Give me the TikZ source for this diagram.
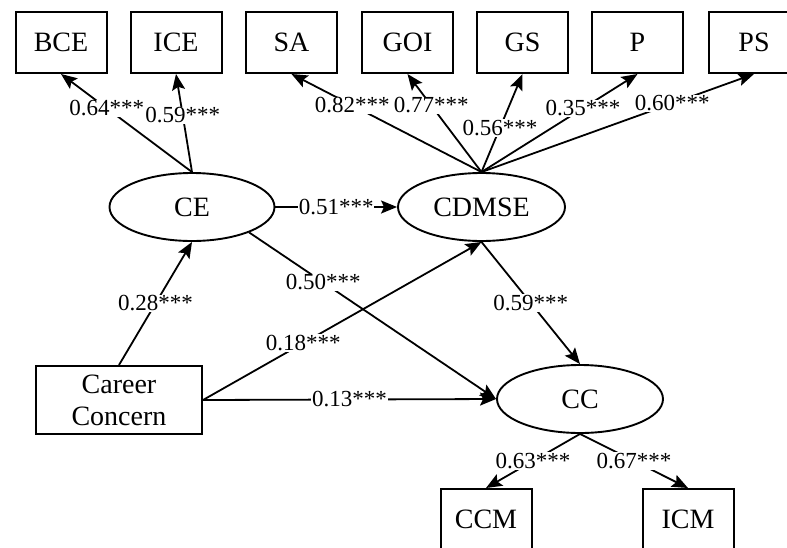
\documentclass[tikz,border=0pt]{standalone}
\usepackage{fontspec}
\setmainfont{Liberation Serif}
\usetikzlibrary{arrows.meta,shapes.geometric}
\begin{document}
\begin{tikzpicture}[x=1pt,y=-1pt,
  obs/.style={draw,line width=2pt,rectangle,minimum width=91pt,minimum height=61pt,inner sep=0pt,font=\fontsize{28}{32}\selectfont},
  lat/.style={draw,line width=1.9pt,ellipse,minimum width=166pt,minimum height=68pt,inner sep=0pt,font=\fontsize{28}{32}\selectfont},
  path/.style={line width=1.8pt,-{Stealth[length=16pt,width=13pt,inset=3pt]}},
  lbl/.style={fill=white,inner sep=0.8pt,font=\fontsize{23}{26}\selectfont}]
\clip (0,0) rectangle (787,547);
\fill[white] (0,0) rectangle (787,547);
% indicators
\node[obs] (bce) at (61,42.5) {BCE};
\node[obs] (ice) at (176,42.5) {ICE};
\node[obs] (sa) at (291.5,42.5) {SA};
\node[obs] (goi) at (407.5,42.5) {GOI};
\node[obs] (gs) at (522.5,42.5) {GS};
\node[obs] (p) at (637.5,42.5) {P};
\node[obs] (ps) at (754,42.5) {PS};
\node[obs] (ccm) at (486,519.5) {CCM};
\node[obs] (icm) at (688,519.5) {ICM};
% latent
\node[lat,minimum width=165pt] (ce) at (192,207) {CE};
\node[lat,minimum width=167pt] (cdmse) at (481.5,207) {CDMSE};
\node[lat] (cc) at (580,399) {CC};
\node[obs,minimum width=166pt,minimum height=68pt,align=center] (career) at (119,400) {Career\\[0pt]Concern};
% loadings
\draw[path] (ce.north) -- node[lbl,pos=0.65] {0.64***} (bce.south);
\draw[path] (ce.north) -- node[lbl,pos=0.58] {0.59***} (ice.south);
\draw[path] (cdmse.north) -- node[lbl,pos=0.68] {0.82***} (sa.south);
\draw[path] (cdmse.north) -- node[lbl,pos=0.68] {0.77***} (goi.south);
\draw[path] (cdmse.north) -- node[lbl,pos=0.45] {0.56***} (gs.south);
\draw[path] (cdmse.north) -- node[lbl,pos=0.65] {0.35***} (p.south);
\draw[path] (cdmse.north) -- node[lbl,pos=0.70] {0.60***} (ps.south);
\draw[path] (cc.south) -- node[lbl,pos=0.5] {0.63***} (ccm.north);
\draw[path] (cc.south) -- node[lbl,pos=0.5] {0.67***} (icm.north);
% structural paths
\draw[path] (ce.east) -- node[lbl,pos=0.5] {0.51***} (cdmse.west);
\draw[path] (ce.-24) -- node[lbl,pos=0.3] {0.50***} (cc.west);
\draw[path] (cdmse.south) -- node[lbl,pos=0.5] {0.59***} (cc.north);
\draw[path] (career.north) -- node[lbl,pos=0.5] {0.28***} (ce.south);
\draw[path] (career.east) -- node[lbl,pos=0.36] {0.18***} (cdmse.south);
\draw[path] (career.east) -- node[lbl,pos=0.5] {0.13***} (cc.west);
\end{tikzpicture}
\end{document}
